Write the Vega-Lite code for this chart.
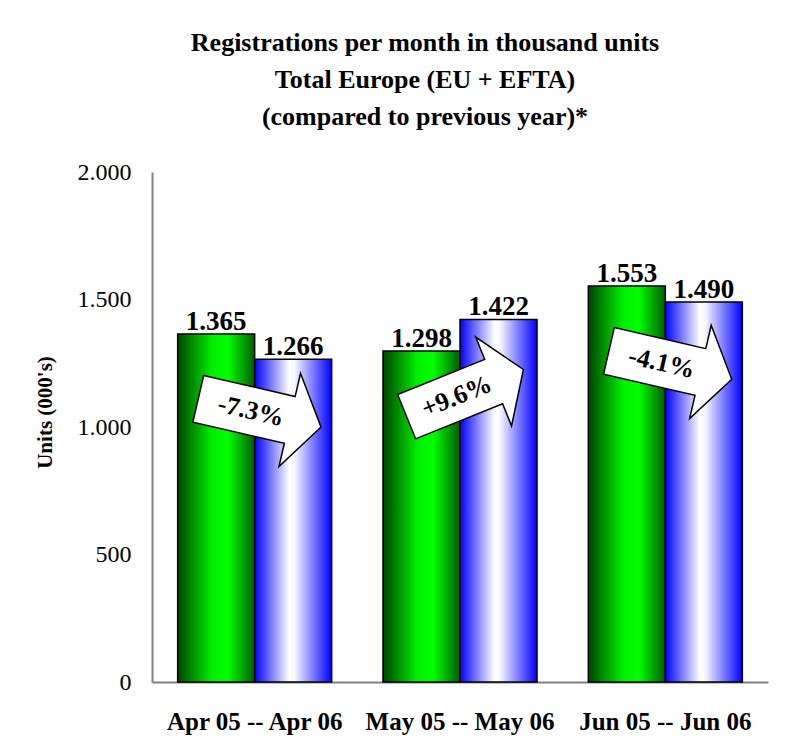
{
  "$schema": "https://vega.github.io/schema/vega-lite/v6.json",
  "width": 616,
  "height": 510,
  "autosize": {"type": "none"},
  "padding": {"left": 152, "top": 172, "right": 37, "bottom": 70},
  "background": "white",
  "title": {
    "text": ["Registrations per month in thousand units", "Total Europe (EU + EFTA)", "(compared to previous year)*"],
    "font": "Liberation Serif",
    "fontSize": 26,
    "fontWeight": "bold",
    "lineHeight": 37,
    "anchor": "middle",
    "frame": "group",
    "dx": -35,
    "offset": 30,
    "color": "black"
  },
  "config": {
    "locale": {"number": {"decimal": ",", "thousands": ".", "grouping": [3], "currency": ["", " €"]}},
    "view": {"stroke": null},
    "font": "Liberation Serif",
    "title": {"font": "Liberation Serif"},
    "axisX": {
      "ticks": false, "tickSize": 0, "labelAngle": 0, "grid": false, "labelLimit": 0,
      "labelFont": "Liberation Serif", "labelFontSize": 25, "labelFontWeight": "bold", "labelColor": "black",
      "labelPadding": 27, "labelBaseline": "top",
      "domainColor": "#808080", "domainWidth": 2
    },
    "axisY": {
      "titleFont": "Liberation Serif", "titleFontSize": 21, "titleFontWeight": "bold", "titleColor": "black", "titlePadding": 22,
      "titleY": 240,
      "grid": false, "ticks": false, "tickSize": 0,
      "labelFont": "Liberation Serif", "labelFontSize": 24, "labelFontWeight": "normal", "labelColor": "black", "labelPadding": 21,
      "domainColor": "#808080", "domainWidth": 2
    }
  },
  "datasets": {
    "bars": [
      {"month": "Apr 05 -- Apr 06", "year": "05", "value": 1365},
      {"month": "Apr 05 -- Apr 06", "year": "06", "value": 1266},
      {"month": "May 05 -- May 06", "year": "05", "value": 1298},
      {"month": "May 05 -- May 06", "year": "06", "value": 1422},
      {"month": "Jun 05 -- Jun 06", "year": "05", "value": 1553},
      {"month": "Jun 05 -- Jun 06", "year": "06", "value": 1490}
    ],
    "arrows": [
      {"month": "Apr 05 -- Apr 06", "change": "-7.3%", "direction": "down", "ypos": 1055},
      {"month": "May 05 -- May 06", "change": "+9.6%", "direction": "up", "ypos": 1133},
      {"month": "Jun 05 -- Jun 06", "change": "-4.1%", "direction": "down", "ypos": 1243}
    ]
  },
  "layer": [
    {
      "data": {"name": "bars"},
      "transform": [{"filter": "datum.year === '05'"}],
      "mark": {
        "type": "bar",
        "stroke": "black",
        "strokeWidth": 1.5,
        "fill": {"gradient": "linear", "x1": 0, "x2": 1, "y1": 0, "y2": 0,
          "stops": [
            {"offset": 0, "color": "#004400"},
            {"offset": 0.45, "color": "#00f000"},
            {"offset": 0.65, "color": "#00ff00"},
            {"offset": 1, "color": "#005c00"}
          ]}
      },
      "encoding": {
        "x": {
          "field": "month", "type": "nominal", "title": null,
          "scale": {"domain": ["Apr 05 -- Apr 06", "May 05 -- May 06", "Jun 05 -- Jun 06"], "paddingInner": 0.25, "paddingOuter": 0.125}
        },
        "xOffset": {"field": "year", "type": "nominal", "scale": {"domain": ["05", "06"], "paddingInner": 0, "paddingOuter": 0}},
        "y": {
          "field": "value", "type": "quantitative", "title": "Units (000's)",
          "scale": {"domain": [0, 2000], "nice": false},
          "axis": {"values": [0, 500, 1000, 1500, 2000], "format": ",d"}
        }
      }
    },
    {
      "data": {"name": "bars"},
      "transform": [{"filter": "datum.year === '06'"}],
      "mark": {
        "type": "bar",
        "stroke": "black",
        "strokeWidth": 1.5,
        "fill": {"gradient": "linear", "x1": 0, "x2": 1, "y1": 0, "y2": 0,
          "stops": [
            {"offset": 0, "color": "#0000ff"},
            {"offset": 0.45, "color": "#ffffff"},
            {"offset": 0.52, "color": "#f6f6ff"},
            {"offset": 1, "color": "#0000ff"}
          ]}
      },
      "encoding": {
        "x": {"field": "month", "type": "nominal", "title": null},
        "xOffset": {"field": "year", "type": "nominal"},
        "y": {"field": "value", "type": "quantitative", "title": "Units (000's)"}
      }
    },
    {
      "data": {"name": "bars"},
      "mark": {"type": "text", "font": "Liberation Serif", "fontSize": 27, "fontWeight": "bold", "color": "black", "baseline": "alphabetic", "dy": -4},
      "encoding": {
        "x": {"field": "month", "type": "nominal", "title": null},
        "xOffset": {"field": "year", "type": "nominal"},
        "y": {"field": "value", "type": "quantitative", "title": "Units (000's)"},
        "text": {"field": "value", "type": "quantitative", "format": ",d"}
      }
    },
    {
      "data": {"name": "arrows"},
      "mark": {
        "type": "point",
        "shape": "M-1,-0.38L0.49,-0.38L0.49,-0.76L1,0L0.49,0.76L0.49,0.38L-1,0.38Z",
        "size": 15876,
        "filled": true,
        "fill": "white",
        "stroke": "black",
        "strokeWidth": 1.5,
        "opacity": 1,
        "xOffset": 5
      },
      "encoding": {
        "x": {"field": "month", "type": "nominal", "title": null},
        "y": {"field": "ypos", "type": "quantitative", "title": "Units (000's)"},
        "angle": {"field": "direction", "type": "nominal", "scale": {"domain": ["down", "up"], "range": [13, -22]}, "legend": null}
      }
    },
    {
      "data": {"name": "arrows"},
      "mark": {"type": "text", "font": "Liberation Serif", "fontSize": 26, "fontWeight": "bold", "color": "black", "align": "center", "baseline": "middle", "dx": -9, "xOffset": 5},
      "encoding": {
        "x": {"field": "month", "type": "nominal", "title": null},
        "y": {"field": "ypos", "type": "quantitative", "title": "Units (000's)"},
        "text": {"field": "change", "type": "nominal"},
        "angle": {"field": "direction", "type": "nominal", "scale": {"domain": ["down", "up"], "range": [13, -22]}, "legend": null}
      }
    }
  ]
}
